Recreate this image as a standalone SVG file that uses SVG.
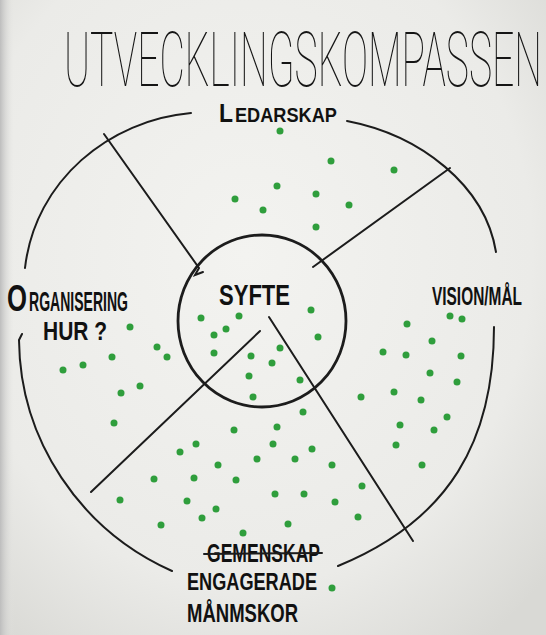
<svg xmlns="http://www.w3.org/2000/svg" width="546" height="635" viewBox="0 0 546 635">
<defs>
<radialGradient id="paper" cx="0.45" cy="0.4" r="0.75">
<stop offset="0" stop-color="#f3f3f0"/>
<stop offset="0.7" stop-color="#ebebe8"/>
<stop offset="1" stop-color="#d9d9d5"/>
</radialGradient>
<linearGradient id="edge" x1="0" y1="0" x2="1" y2="0">
<stop offset="0" stop-color="#bdbdbd"/>
<stop offset="1" stop-color="#e6e6e3" stop-opacity="0"/>
</linearGradient>
<style>
.ln{fill:none;stroke:#1c1c1c;stroke-width:2;stroke-linecap:round}
.thick{stroke-width:2.8}
.dot{fill:#2f9e3c}
.t{font-family:"Roboto","Lato","DejaVu Sans",sans-serif;font-weight:100;fill:#151515}
.lab{font-family:"Liberation Sans","DejaVu Sans",sans-serif;font-weight:bold;fill:#111}
</style>
</defs>
<rect width="546" height="635" fill="url(#paper)"/>
<rect width="14" height="635" fill="url(#edge)"/>

<g id="title">
<text class="t" x="64" y="86" font-size="76" textLength="478" lengthAdjust="spacingAndGlyphs">UTVECKLINGSKOMPASSEN</text>
</g>

<g id="connectors">
<path class="ln" d="M25,268 C35,180 110,120 191,113"/>
<path class="ln" d="M347,121 C420,135 485,185 496,252"/>
<path class="ln" d="M22,334 L19,340 C20,440 80,530 172,571"/>
<path class="ln" d="M494,327 C494,440 450,520 338,566"/>
<path class="ln" d="M104,134 L199,268 L195,275 L203,272"/>
<path class="ln" d="M450,168 L313,267"/>
<path class="ln" d="M260,331 L91,492"/>
<path class="ln" d="M269,317 L413,541"/>
</g>

<g id="syfte">
<ellipse class="ln thick" cx="262" cy="321" rx="84" ry="86"/>
<text class="lab" x="219" y="305" font-size="29" font-weight="normal" textLength="71" lengthAdjust="spacingAndGlyphs">SYFTE</text>
</g>

<g id="ledarskap">
<text class="lab" x="219" y="122" font-size="26" textLength="14" lengthAdjust="spacingAndGlyphs">L</text>
<text class="lab" x="235" y="122" font-size="20" textLength="102" lengthAdjust="spacingAndGlyphs">EDARSKAP</text>
</g>

<g id="organisering">
<text class="lab" x="7" y="311" font-size="36" textLength="20" lengthAdjust="spacingAndGlyphs">O</text>
<text class="lab" x="29" y="311" font-size="27" textLength="99" lengthAdjust="spacingAndGlyphs">RGANISERING</text>
<text class="lab" x="43" y="340" font-size="26" textLength="64" lengthAdjust="spacingAndGlyphs">HUR ?</text>
</g>

<g id="vision">
<text class="lab" x="432" y="305" font-size="25" textLength="90" lengthAdjust="spacingAndGlyphs">VISION/MÅL</text>
</g>

<g id="engagerade">
<text class="lab" x="207" y="562" font-size="26" textLength="113" lengthAdjust="spacingAndGlyphs">GEMENSKAP</text>
<path class="ln" d="M204,554 L322,553" stroke-width="3.5"/>
<text class="lab" x="187" y="590" font-size="24" textLength="130" lengthAdjust="spacingAndGlyphs">ENGAGERADE</text>
<text class="lab" x="187" y="622" font-size="25" textLength="111" lengthAdjust="spacingAndGlyphs">MÅNMSKOR</text>
</g>

<g id="dots">
<circle class="dot" cx="280" cy="131" r="3.5"/><circle class="dot" cx="331" cy="161" r="3.5"/><circle class="dot" cx="394" cy="170" r="3.5"/><circle class="dot" cx="277" cy="186" r="3.5"/><circle class="dot" cx="316" cy="194" r="3.5"/><circle class="dot" cx="235" cy="199" r="3.5"/><circle class="dot" cx="263" cy="210" r="3.5"/><circle class="dot" cx="349" cy="205" r="3.5"/><circle class="dot" cx="316" cy="227" r="3.5"/>
<circle class="dot" cx="201" cy="318" r="3.5"/><circle class="dot" cx="239" cy="316" r="3.5"/><circle class="dot" cx="311" cy="310" r="3.5"/><circle class="dot" cx="226" cy="329" r="3.5"/><circle class="dot" cx="214" cy="335" r="3.5"/><circle class="dot" cx="318" cy="337" r="3.5"/><circle class="dot" cx="280" cy="348" r="3.5"/><circle class="dot" cx="214" cy="353" r="3.5"/><circle class="dot" cx="251" cy="356" r="3.5"/><circle class="dot" cx="272" cy="363" r="3.5"/><circle class="dot" cx="249" cy="376" r="3.5"/><circle class="dot" cx="300" cy="380" r="3.5"/><circle class="dot" cx="253" cy="397" r="3.5"/>
<circle class="dot" cx="130" cy="327" r="3.5"/><circle class="dot" cx="157" cy="347" r="3.5"/><circle class="dot" cx="167" cy="357" r="3.5"/><circle class="dot" cx="112" cy="357" r="3.5"/><circle class="dot" cx="83" cy="365" r="3.5"/><circle class="dot" cx="63" cy="370" r="3.5"/><circle class="dot" cx="140" cy="386" r="3.5"/><circle class="dot" cx="121" cy="393" r="3.5"/><circle class="dot" cx="114" cy="423" r="3.5"/><circle class="dot" cx="196" cy="444" r="3.5"/><circle class="dot" cx="180" cy="452" r="3.5"/><circle class="dot" cx="154" cy="479" r="3.5"/><circle class="dot" cx="194" cy="478" r="3.5"/><circle class="dot" cx="120" cy="500" r="3.5"/><circle class="dot" cx="187" cy="501" r="3.5"/><circle class="dot" cx="161" cy="525" r="3.5"/>
<circle class="dot" cx="450" cy="316" r="3.5"/><circle class="dot" cx="462" cy="319" r="3.5"/><circle class="dot" cx="407" cy="324" r="3.5"/><circle class="dot" cx="432" cy="341" r="3.5"/><circle class="dot" cx="383" cy="352" r="3.5"/><circle class="dot" cx="406" cy="355" r="3.5"/><circle class="dot" cx="461" cy="356" r="3.5"/><circle class="dot" cx="430" cy="373" r="3.5"/><circle class="dot" cx="457" cy="382" r="3.5"/><circle class="dot" cx="361" cy="397" r="3.5"/><circle class="dot" cx="394" cy="392" r="3.5"/><circle class="dot" cx="421" cy="400" r="3.5"/><circle class="dot" cx="447" cy="417" r="3.5"/><circle class="dot" cx="400" cy="425" r="3.5"/><circle class="dot" cx="434" cy="430" r="3.5"/><circle class="dot" cx="396" cy="445" r="3.5"/><circle class="dot" cx="422" cy="465" r="3.5"/><circle class="dot" cx="332" cy="465" r="3.5"/><circle class="dot" cx="362" cy="486" r="3.5"/><circle class="dot" cx="335" cy="502" r="3.5"/><circle class="dot" cx="358" cy="517" r="3.5"/>
<circle class="dot" cx="303" cy="412" r="3.5"/><circle class="dot" cx="277" cy="427" r="3.5"/><circle class="dot" cx="234" cy="430" r="3.5"/><circle class="dot" cx="273" cy="444" r="3.5"/><circle class="dot" cx="312" cy="449" r="3.5"/><circle class="dot" cx="257" cy="459" r="3.5"/><circle class="dot" cx="295" cy="459" r="3.5"/><circle class="dot" cx="218" cy="465" r="3.5"/><circle class="dot" cx="236" cy="480" r="3.5"/><circle class="dot" cx="275" cy="494" r="3.5"/><circle class="dot" cx="304" cy="494" r="3.5"/><circle class="dot" cx="216" cy="509" r="3.5"/><circle class="dot" cx="202" cy="518" r="3.5"/><circle class="dot" cx="288" cy="524" r="3.5"/><circle class="dot" cx="243" cy="533" r="3.5"/><circle class="dot" cx="332" cy="588" r="3.5"/>
</g>
</svg>
